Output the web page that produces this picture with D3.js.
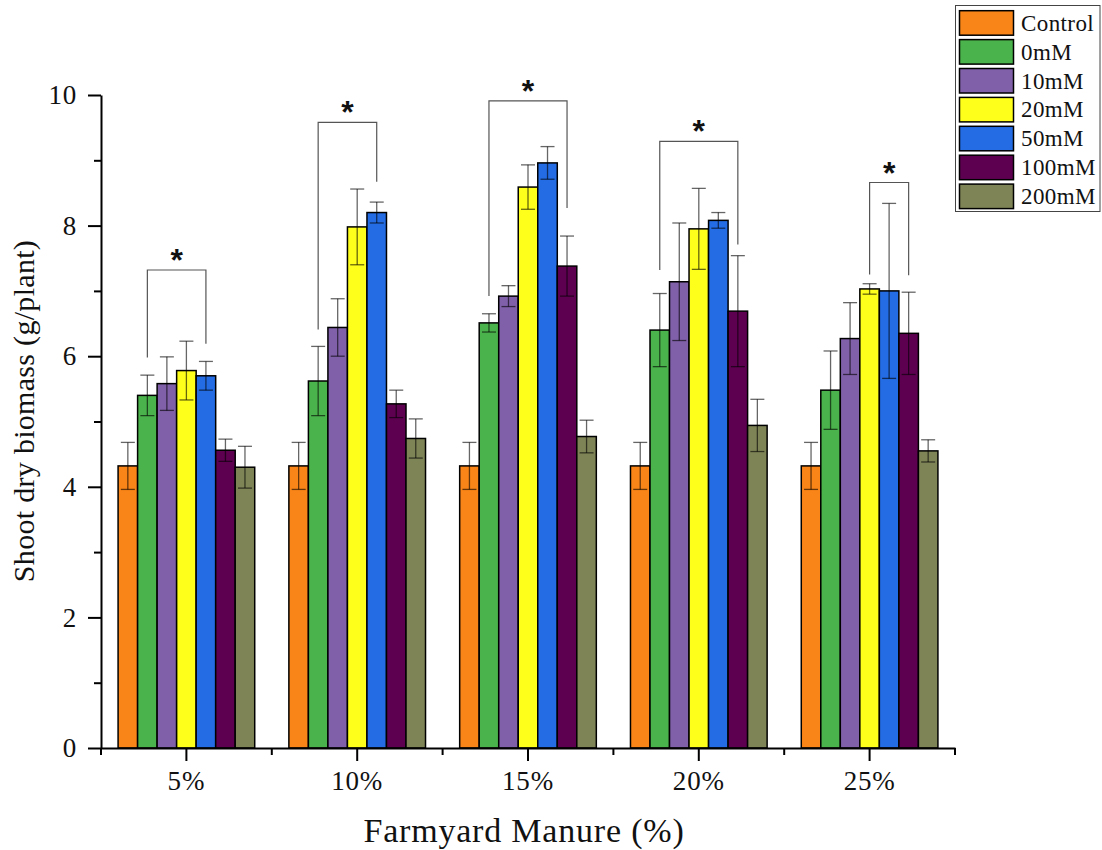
<!DOCTYPE html>
<html>
<head>
<meta charset="utf-8">
<script src="https://cdn.jsdelivr.net/npm/d3@7"></script>
<style>
  body { margin: 0; background: #fff; }
  svg text { font-family: "Liberation Serif", "Times New Roman", serif; fill: #111; }
</style>
</head>
<body>
<svg id="chart" width="1102" height="850"></svg>
<script>
// categories and series
const categories = ["5%", "10%", "15%", "20%", "25%"];
const seriesNames = ["Control", "0mM", "10mM", "20mM", "50mM", "100mM", "200mM"];

// means per series (g/plant)
const control = [4.32, 4.32, 4.32, 4.32, 4.32];
const mM0     = [5.40, 5.62, 6.51, 6.40, 5.48];
const mM10    = [5.58, 6.44, 6.92, 7.14, 6.27];
const mM20    = [5.78, 7.98, 8.59, 7.95, 7.03];
const mM50    = [5.70, 8.20, 8.96, 8.08, 7.00];
const mM100   = [4.56, 5.27, 7.38, 6.69, 6.35];
const mM200   = [4.30, 4.74, 4.77, 4.94, 4.55];

// error bar half widths
const controlErr = [0.36, 0.36, 0.36, 0.36, 0.36];
const mM0Err     = [0.31, 0.53, 0.14, 0.56, 0.60];
const mM10Err    = [0.41, 0.44, 0.16, 0.90, 0.55];
const mM20Err    = [0.45, 0.58, 0.34, 0.62, 0.08];
const mM50Err    = [0.22, 0.16, 0.25, 0.12, 1.34];
const mM100Err   = [0.17, 0.21, 0.46, 0.85, 0.63];
const mM200Err   = [0.32, 0.30, 0.25, 0.40, 0.17];

// significance brackets
const bracketCats     = ["5%", "10%", "15%", "20%", "25%"];
const bracketFrom     = ["0mM", "0mM", "0mM", "0mM", "20mM"];
const bracketTo       = ["50mM", "50mM", "100mM", "100mM", "100mM"];
const bracketTop      = [7.32, 9.58, 9.91, 9.29, 8.66];
const bracketLeftEnd  = [5.98, 6.41, 6.92, 7.32, 7.25];
const bracketRightEnd = [6.19, 8.67, 8.27, 7.71, 7.24];

const yTicks = [0, 2, 4, 6, 8, 10];
const yMinorTicks = [1, 3, 5, 7, 9];

const colors = ["#f98417", "#4ab34b", "#8060a9", "#ffff1c", "#236ce4", "#5e0050", "#7f8456"];

const means = [control, mM0, mM10, mM20, mM50, mM100, mM200];
const errs = [controlErr, mM0Err, mM10Err, mM20Err, mM50Err, mM100Err, mM200Err];

const rows = [];
categories.forEach((c, ci) => {
  seriesNames.forEach((s, si) => {
    rows.push({ cat: c, series: s, value: means[si][ci], err: errs[si][ci], color: colors[si] });
  });
});

const serif = "'Liberation Serif', 'Times New Roman', serif";
const svg = d3.select("#chart");
const plotLeft = 101, plotRight = 955, plotTop = 95, plotBottom = 748;

const x = d3.scaleBand().domain(categories).range([plotLeft, plotRight]).padding(0);
const xs = d3.scaleBand().domain(seriesNames)
  .range([x.bandwidth() * 0.1, x.bandwidth() * 0.9]).padding(0);
const y = d3.scaleLinear().domain([0, 10]).range([plotBottom, plotTop]);

// bars
svg.append("g").selectAll("rect")
  .data(rows)
  .enter()
  .append("rect")
  .attr("x", d => x(d.cat) + xs(d.series))
  .attr("y", d => y(d.value))
  .attr("width", xs.bandwidth())
  .attr("height", d => y(0) - y(d.value))
  .attr("fill", d => d.color)
  .attr("stroke", "#000")
  .attr("stroke-width", 1.5);

// error bars
const eb = svg.append("g")
  .attr("stroke", "#000")
  .attr("stroke-opacity", 0.6)
  .attr("stroke-width", 1.3)
  .selectAll("g")
  .data(rows)
  .enter()
  .append("g")
  .attr("transform", d => "translate(" + (x(d.cat) + xs(d.series) + xs.bandwidth() / 2) + ",0)");
eb.append("line")
  .attr("y1", d => y(d.value + d.err))
  .attr("y2", d => y(d.value - d.err));
eb.append("line")
  .attr("x1", -7).attr("x2", 7)
  .attr("y1", d => y(d.value + d.err))
  .attr("y2", d => y(d.value + d.err));
eb.append("line")
  .attr("x1", -7).attr("x2", 7)
  .attr("y1", d => y(d.value - d.err))
  .attr("y2", d => y(d.value - d.err));

// brackets and stars
const br = bracketCats.map((c, i) => ({
  x1: x(c) + xs(bracketFrom[i]) + xs.bandwidth() / 2,
  x2: x(c) + xs(bracketTo[i]) + xs.bandwidth() / 2,
  top: y(bracketTop[i]),
  l: y(bracketLeftEnd[i]),
  r: y(bracketRightEnd[i])
}));
svg.append("g").selectAll("path")
  .data(br)
  .enter()
  .append("path")
  .attr("d", d => "M" + d.x1 + "," + d.l + "V" + d.top + "H" + d.x2 + "V" + d.r)
  .attr("fill", "none")
  .attr("stroke", "#555")
  .attr("stroke-width", 1.2);
svg.append("g").selectAll("text")
  .data(br)
  .enter()
  .append("text")
  .attr("x", d => (d.x1 + d.x2) / 2)
  .attr("y", d => d.top + 1)
  .attr("text-anchor", "middle")
  .style("font-family", "'Liberation Sans', Arial, sans-serif")
  .style("font-weight", "bold")
  .style("font-size", "32px")
  .text("*");

// y axis
const yAxis = svg.append("g")
  .attr("transform", "translate(" + plotLeft + ",0)")
  .call(d3.axisLeft(y).tickValues(yTicks).tickSize(13).tickSizeOuter(0).tickPadding(11));
svg.append("g")
  .attr("transform", "translate(" + plotLeft + ",0)")
  .call(d3.axisLeft(y).tickValues(yMinorTicks).tickSize(7).tickSizeOuter(0).tickFormat(""))
  .select(".domain").remove();

// x axis
const xAxis = svg.append("g")
  .attr("transform", "translate(0," + plotBottom + ")")
  .call(d3.axisBottom(x).tickSize(13).tickSizeOuter(0).tickPadding(10));
svg.append("g")
  .attr("transform", "translate(0," + plotBottom + ")")
  .selectAll("line")
  .data(categories.map(c => x(c)).concat([x(categories[categories.length - 1]) + x.bandwidth()]))
  .enter()
  .append("line")
  .attr("x1", d => d).attr("x2", d => d)
  .attr("y1", 0).attr("y2", 7)
  .attr("stroke", "#000")
  .attr("stroke-width", 2);

[yAxis, xAxis].forEach(a => {
  a.attr("font-family", serif);
  a.selectAll(".domain").attr("stroke-width", 2);
  a.selectAll(".tick text")
    .style("font-family", serif)
    .style("font-size", "27px")
    .style("letter-spacing", "0.8px")
    .attr("fill", "#111");
});
svg.selectAll(".tick line").attr("stroke-width", 2);

// axis titles
svg.append("text")
  .attr("x", 524).attr("y", 842)
  .attr("text-anchor", "middle")
  .style("font-family", serif)
  .style("font-size", "34px")
  .style("letter-spacing", "0.8px")
  .text("Farmyard Manure (%)");
svg.append("text")
  .attr("transform", "translate(33.5,411) rotate(-90)")
  .attr("text-anchor", "middle")
  .style("font-family", serif)
  .style("font-size", "30px")
  .style("letter-spacing", "0.3px")
  .text("Shoot dry biomass (g/plant)");

// legend
const legend = svg.append("g");
legend.append("rect")
  .attr("x", 955.5).attr("y", 5.5)
  .attr("width", 144.5).attr("height", 206)
  .attr("fill", "#fff")
  .attr("stroke", "#444")
  .attr("stroke-width", 1);
const li = legend.selectAll("g.item")
  .data(seriesNames)
  .enter()
  .append("g")
  .attr("class", "item")
  .attr("transform", (d, i) => "translate(0," + (10.7 + i * 28.9) + ")");
li.append("rect")
  .attr("x", 959.5).attr("y", 0)
  .attr("width", 54).attr("height", 24.5)
  .attr("fill", (d, i) => colors[i])
  .attr("stroke", "#000")
  .attr("stroke-width", 1.5);
li.append("text")
  .attr("x", 1021).attr("y", 20)
  .style("font-family", serif)
  .style("font-size", "23px")
  .style("letter-spacing", "0.4px")
  .text(d => d);
</script>
</body>
</html>
